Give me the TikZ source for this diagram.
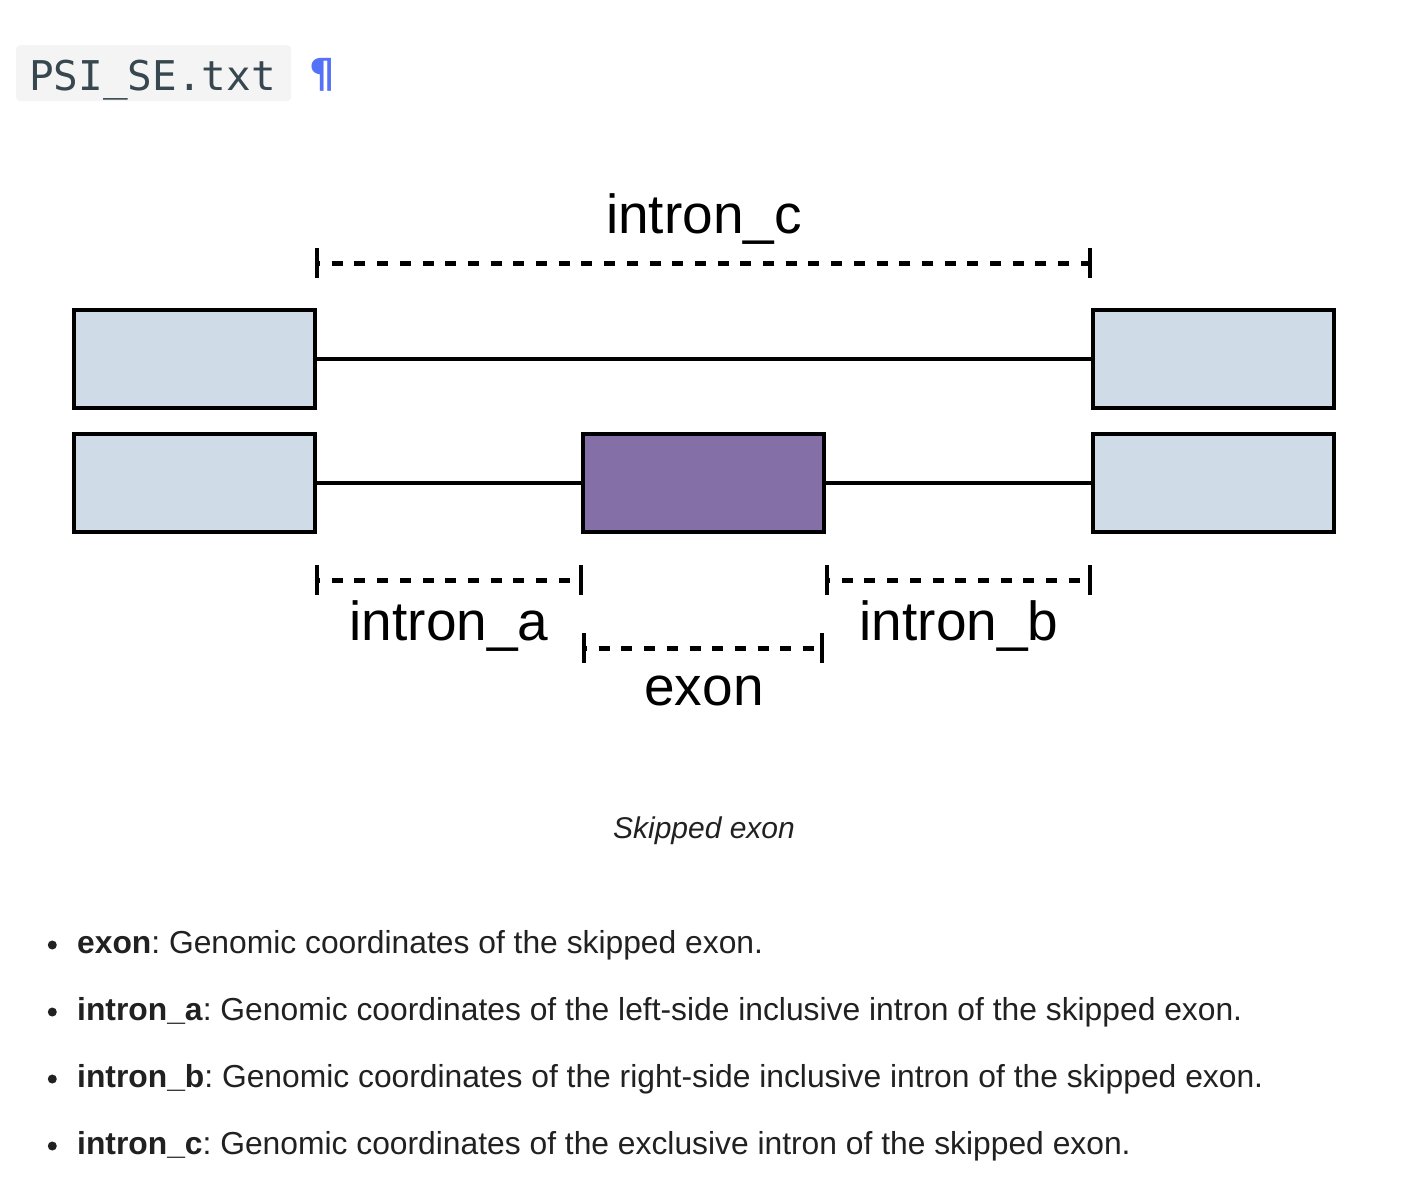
\documentclass[tikz,border=0pt]{standalone}
\usepackage{fontspec}
\setmainfont{Liberation Sans}
\newfontfamily\codefont{DejaVu Sans Mono}
\newfontfamily\symfont{DejaVu Sans}
\definecolor{exonblue}{HTML}{CFDCE8}
\definecolor{exonpurple}{HTML}{8470A7}
\definecolor{bodytext}{HTML}{212121}
\definecolor{codebg}{HTML}{F4F4F4}
\definecolor{codefg}{HTML}{37474F}
\definecolor{pilcrowblue}{HTML}{5571F5}
\frenchspacing
\begin{document}
\begin{tikzpicture}[x=1pt,y=-1pt,
  genebox/.style={draw=black, line width=4, fill=exonblue, minimum width=241, minimum height=98, inner sep=0},
  intronline/.style={line width=3.5, black},
  dashline/.style={line width=5, black, dash pattern=on 11 off 11.7, dash phase=8},
  tickline/.style={line width=4.5, black},
  lbl/.style={font=\fontsize{55}{60}\selectfont, inner sep=0, anchor=base},
  bodyline/.style={font=\fontsize{31.8}{38}\selectfont, text=bodytext, inner sep=0, anchor=base west},
  bulletdot/.style={fill=bodytext, draw=none}
]
\useasboundingbox (0,0) rectangle (1412,1188);
\fill[white] (0,0) rectangle (1412,1188);

% header
\node[fill=codebg, rounded corners=4, minimum width=275, minimum height=56, inner sep=0, anchor=north west] (hdr) at (16,45) {};
\node[anchor=base west, text=codefg, font=\codefont\fontsize{41}{48}\selectfont, inner sep=0] (hdrtxt) at (29,91) {PSI\_SE.txt};
\node[anchor=base west, text=pilcrowblue, font=\symfont\bfseries\fontsize{40}{48}\selectfont, inner sep=0] (pil) at (309,88) {¶};

% gene boxes
\node[genebox] (lt) at (194.5,359) {};
\node[genebox] (rt) at (1213.5,359) {};
\node[genebox] (lb) at (194.5,483) {};
\node[genebox] (rb) at (1213.5,483) {};
\node[genebox, fill=exonpurple] (se) at (703.5,483) {};

\draw[intronline] (lt.east) -- (rt.west);
\draw[intronline] (lb.east) -- (se.west);
\draw[intronline] (se.east) -- (rb.west);

% brackets
\coordinate (c1) at (317,263); \coordinate (c2) at (1090,263);
\coordinate (a1) at (317,580); \coordinate (a2) at (581,580);
\coordinate (b1) at (827,580); \coordinate (b2) at (1090,580);
\coordinate (e1) at (584,648); \coordinate (e2) at (822,648);

\foreach \p/\q in {c1/c2, a1/a2, b1/b2, e1/e2}{
  \draw[dashline] (\p) -- (\q);
  \draw[tickline] ([yshift=-15pt]\p) -- ([yshift=15pt]\p);
  \draw[tickline] ([yshift=-15pt]\q) -- ([yshift=15pt]\q);
}

\node[lbl] (lc) at (704,233) {intron\_c};
\node[lbl] (la) at (449,640) {intron\_a};
\node[lbl] (lbb) at (959,640) {intron\_b};
\node[lbl] (le) at (704,705) {exon};

% caption
\node[anchor=base, inner sep=0, text=bodytext, font=\itshape\fontsize{30}{36}\selectfont] (cap) at (704,838) {Skipped exon};

% bullets
\fill[bulletdot] (52.3,945) circle (4.5);
\fill[bulletdot] (52.3,1012) circle (4.5);
\fill[bulletdot] (52.3,1079) circle (4.5);
\fill[bulletdot] (52.3,1146) circle (4.5);
\node[bodyline] (t1) at (77,953) {\textbf{exon}: Genomic coordinates of the skipped exon.};
\node[bodyline] (t2) at (77,1020) {\textbf{intron\_a}: Genomic coordinates of the left-side inclusive intron of the skipped exon.};
\node[bodyline] (t3) at (77,1087) {\textbf{intron\_b}: Genomic coordinates of the right-side inclusive intron of the skipped exon.};
\node[bodyline] (t4) at (77,1154) {\textbf{intron\_c}: Genomic coordinates of the exclusive intron of the skipped exon.};
\end{tikzpicture}
\end{document}
